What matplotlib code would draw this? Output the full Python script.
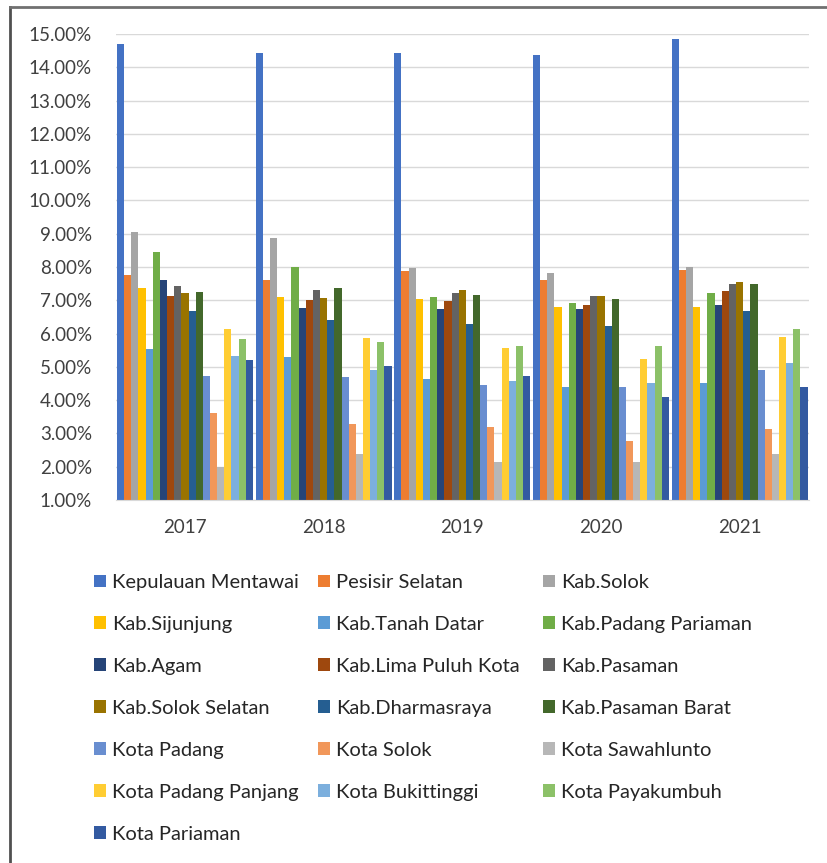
import numpy as np
import matplotlib.pyplot as plt
from matplotlib.lines import Line2D
from matplotlib.patches import Patch
from matplotlib.ticker import FuncFormatter

plt.rcParams['font.family'] = ['Lato', 'DejaVu Sans']

years = ['2017', '2018', '2019', '2020', '2021']

regions = ['Kepulauan Mentawai', 'Pesisir Selatan', 'Kab.Solok',
           'Kab.Sijunjung', 'Kab.Tanah Datar', 'Kab.Padang Pariaman',
           'Kab.Agam', 'Kab.Lima Puluh Kota', 'Kab.Pasaman',
           'Kab.Solok Selatan', 'Kab.Dharmasraya', 'Kab.Pasaman Barat',
           'Kota Padang', 'Kota Solok', 'Kota Sawahlunto',
           'Kota Padang Panjang', 'Kota Bukittinggi', 'Kota Payakumbuh',
           'Kota Pariaman']

# values in percent, one list per year (same order as regions)
v2017 = [14.70, 7.77, 9.04, 7.37, 5.54, 8.44, 7.62, 7.14, 7.42, 7.22,
         6.67, 7.25, 4.74, 3.62, 1.99, 6.14, 5.34, 5.85, 5.21]
v2018 = [14.44, 7.60, 8.86, 7.11, 5.31, 8.01, 6.76, 7.00, 7.32, 7.08,
         6.40, 7.36, 4.70, 3.27, 2.37, 5.86, 4.92, 5.76, 5.02]
v2019 = [14.44, 7.87, 7.97, 7.03, 4.63, 7.11, 6.75, 6.97, 7.22, 7.32,
         6.29, 7.15, 4.45, 3.20, 2.15, 5.57, 4.59, 5.64, 4.74]
v2020 = [14.37, 7.61, 7.82, 6.79, 4.38, 6.93, 6.75, 6.86, 7.14, 7.14,
         6.22, 7.04, 4.38, 2.77, 2.15, 5.24, 4.52, 5.64, 4.09]
v2021 = [14.84, 7.91, 8.01, 6.79, 4.52, 7.22, 6.86, 7.29, 7.50, 7.54,
         6.68, 7.50, 4.92, 3.12, 2.37, 5.89, 5.12, 6.14, 4.38]

colors = ['#4472C4', '#ED7D31', '#A5A5A5', '#FFC000', '#5B9BD5', '#70AD47',
          '#264478', '#9E480E', '#636363', '#997300', '#255E91', '#43682B',
          '#698ED0', '#F1975A', '#B7B7B7', '#FFCD33', '#7CAFDD', '#8CC168',
          '#335AA1']

data = np.array([v2017, v2018, v2019, v2020, v2021])  # years x regions

fig = plt.figure(figsize=(8.28, 8.63), dpi=100)
W, H = 828, 863
ax = fig.add_axes([115.6 / W, (H - 500) / H, (809 - 115.6) / W, 466 / H])

x = np.arange(len(years))
n = len(regions)
group = 0.98
bw = group / n
for i in range(n):
    ax.bar(x - group / 2 + bw * (i + 0.5), data[:, i], width=bw,
           bottom=0, color=colors[i], label=regions[i], zorder=2)

ax.set_ylim(1, 15)
ax.set_xlim(-0.5, len(years) - 0.5)
ax.set_yticks(np.arange(1, 16, 1))
ax.yaxis.set_major_formatter(FuncFormatter(lambda v, p: f'{v:.2f}%'))
ax.set_xticks(x)
ax.set_xticklabels(years)
ax.grid(axis='y', color='#D9D9D9', linewidth=1, zorder=0)
for s in ['left', 'right', 'top']:
    ax.spines[s].set_visible(False)
ax.spines['bottom'].set_color('#D9D9D9')
ax.tick_params(axis='both', length=0, labelsize=13.5, colors='#404040')
ax.tick_params(axis='y', pad=17)
ax.tick_params(axis='x', pad=14)

# legend: three columns filled row by row
handles = [Patch(facecolor=c) for c in colors]
col_x = [94, 318, 543]
for c in range(3):
    fig.legend(handles[c::3], regions[c::3], loc='upper left',
               bbox_to_anchor=(col_x[c] / W, (H - 574) / H),
               frameon=False, fontsize=14.5, labelcolor='#262626',
               handlelength=0.6, handleheight=0.6, handletextpad=0.3,
               labelspacing=1.24, borderpad=0, borderaxespad=0)

# outer frame
fig.add_artist(Line2D([10 / W, 10 / W], [0, (H - 7) / H], color='#505050', lw=2))
fig.add_artist(Line2D([10 / W, 1], [(H - 7) / H, (H - 7) / H], color='#707070', lw=2))

fig.savefig('out.png', dpi=100)
